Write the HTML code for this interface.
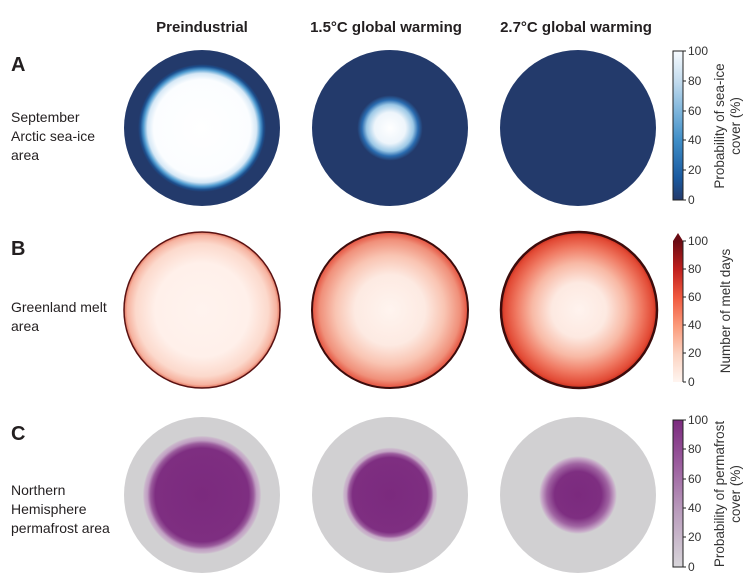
<!DOCTYPE html>
<html><head><meta charset="utf-8"><style>
html,body{margin:0;padding:0;background:#fff;}
svg{display:block;}
.h{font-family:"Liberation Sans",sans-serif;font-weight:bold;font-size:15px;fill:#231f20;}
.L{font-family:"Liberation Sans",sans-serif;font-weight:bold;font-size:20px;fill:#231f20;}
.t{font-family:"Liberation Sans",sans-serif;font-size:14px;fill:#231f20;}
.k{font-family:"Liberation Sans",sans-serif;font-size:12px;fill:#333;}
.ct{font-family:"Liberation Sans",sans-serif;font-size:13.5px;fill:#333;}
</style></head><body>
<svg width="750" height="586" viewBox="0 0 750 586" xmlns="http://www.w3.org/2000/svg">
<defs>
<radialGradient id="a1" cx="0.5" cy="0.5" r="0.5">
<stop offset="0" stop-color="#fff"/><stop offset="0.62" stop-color="#fbfdff"/><stop offset="0.7" stop-color="#d6e8f6"/><stop offset="0.75" stop-color="#4f9bd0"/><stop offset="0.79" stop-color="#1c4f8e"/><stop offset="0.82" stop-color="#233a6b"/><stop offset="1" stop-color="#233a6b"/>
</radialGradient>
<radialGradient id="a2" cx="0.5" cy="0.5" r="0.5">
<stop offset="0" stop-color="#fff"/><stop offset="0.2" stop-color="#eef5fb"/><stop offset="0.3" stop-color="#9cc8e6"/><stop offset="0.36" stop-color="#2a6cb0"/><stop offset="0.42" stop-color="#233a6b"/><stop offset="1" stop-color="#233a6b"/>
</radialGradient>
<radialGradient id="b1" cx="0.5" cy="0.5" r="0.5">
<stop offset="0" stop-color="#fff3ee"/><stop offset="0.6" stop-color="#fff0ea"/><stop offset="0.85" stop-color="#fcd9cc"/><stop offset="0.96" stop-color="#f6b29f"/><stop offset="1" stop-color="#e0705a"/>
</radialGradient>
<radialGradient id="b2" cx="0.5" cy="0.5" r="0.5">
<stop offset="0" stop-color="#fff4ef"/><stop offset="0.45" stop-color="#fdeae2"/><stop offset="0.7" stop-color="#f9c4b2"/><stop offset="0.9" stop-color="#f0907a"/><stop offset="1" stop-color="#e4503d"/>
</radialGradient>
<radialGradient id="b3" cx="0.5" cy="0.5" r="0.5">
<stop offset="0" stop-color="#fff3ee"/><stop offset="0.35" stop-color="#fde9e1"/><stop offset="0.6" stop-color="#f8b9a5"/><stop offset="0.8" stop-color="#f07a63"/><stop offset="0.95" stop-color="#e24a35"/><stop offset="1" stop-color="#c8301f"/>
</radialGradient>
<radialGradient id="c1" cx="0.5" cy="0.5" r="0.5">
<stop offset="0" stop-color="#7b2a7e"/><stop offset="0.6" stop-color="#7e2e81"/><stop offset="0.66" stop-color="#9a5b9c"/><stop offset="0.7" stop-color="#c09ec2"/><stop offset="0.74" stop-color="#cab5cb"/><stop offset="0.76" stop-color="#d1d0d2"/><stop offset="1" stop-color="#d1d0d2"/>
</radialGradient>
<radialGradient id="c2" cx="0.5" cy="0.5" r="0.5">
<stop offset="0" stop-color="#7b2a7e"/><stop offset="0.48" stop-color="#7e2e81"/><stop offset="0.53" stop-color="#9c5d9e"/><stop offset="0.56" stop-color="#c4a6c5"/><stop offset="0.59" stop-color="#cab6cb"/><stop offset="0.61" stop-color="#d1d0d2"/><stop offset="1" stop-color="#d1d0d2"/>
</radialGradient>
<radialGradient id="c3" cx="0.5" cy="0.5" r="0.5">
<stop offset="0" stop-color="#7b2a7e"/><stop offset="0.3" stop-color="#7e2e81"/><stop offset="0.4" stop-color="#a064a2"/><stop offset="0.47" stop-color="#c7a9c8"/><stop offset="0.5" stop-color="#d1d0d2"/><stop offset="1" stop-color="#d1d0d2"/>
</radialGradient>
<linearGradient id="ga" x1="0" y1="1" x2="0" y2="0">
<stop offset="0" stop-color="#233a6b"/><stop offset="0.15" stop-color="#1a5aa0"/><stop offset="0.4" stop-color="#3f8ec7"/><stop offset="0.6" stop-color="#7fb6dc"/><stop offset="0.8" stop-color="#c4dcee"/><stop offset="1" stop-color="#f7fbff"/>
</linearGradient>
<linearGradient id="gb" x1="0" y1="1" x2="0" y2="0">
<stop offset="0" stop-color="#fff5f0"/><stop offset="0.2" stop-color="#fcd3c1"/><stop offset="0.4" stop-color="#fb9a7a"/><stop offset="0.6" stop-color="#f05a40"/><stop offset="0.8" stop-color="#c0201e"/><stop offset="1" stop-color="#6a0b13"/>
</linearGradient>
<linearGradient id="gc" x1="0" y1="1" x2="0" y2="0">
<stop offset="0" stop-color="#d8d6da"/><stop offset="0.4" stop-color="#b899bb"/><stop offset="0.7" stop-color="#9b5d9e"/><stop offset="1" stop-color="#7b2a7e"/>
</linearGradient>
</defs>

<text class="h" x="202" y="32" text-anchor="middle">Preindustrial</text>
<text class="h" x="386" y="32" text-anchor="middle">1.5°C global warming</text>
<text class="h" x="576" y="32" text-anchor="middle">2.7°C global warming</text>

<text class="L" x="11" y="71">A</text>
<text class="t" x="11" y="122">September</text>
<text class="t" x="11" y="141">Arctic sea-ice</text>
<text class="t" x="11" y="160">area</text>
<text class="L" x="11" y="255">B</text>
<text class="t" x="11" y="312">Greenland melt</text>
<text class="t" x="11" y="331">area</text>
<text class="L" x="11" y="440">C</text>
<text class="t" x="11" y="495">Northern</text>
<text class="t" x="11" y="514">Hemisphere</text>
<text class="t" x="11" y="533">permafrost area</text>

<circle cx="202" cy="128" r="78" fill="url(#a1)"/>
<circle cx="390" cy="128" r="78" fill="url(#a2)"/>
<circle cx="578" cy="128" r="78" fill="#233a6b"/>

<circle cx="202" cy="310" r="78" fill="url(#b1)" stroke="#5a1212" stroke-width="1.5"/>
<circle cx="390" cy="310" r="78" fill="url(#b2)" stroke="#3d0c0c" stroke-width="2"/>
<circle cx="579" cy="310" r="78" fill="url(#b3)" stroke="#3d0c0c" stroke-width="2.5"/>

<circle cx="202" cy="495" r="78" fill="url(#c1)"/>
<circle cx="390" cy="495" r="78" fill="url(#c2)"/>
<circle cx="578" cy="495" r="78" fill="url(#c3)"/>

<!-- colorbar A -->
<rect x="673" y="51" width="10" height="149" fill="url(#ga)" stroke="#222" stroke-width="1"/>
<g class="k">
<text x="688" y="55">100</text><text x="688" y="85">80</text><text x="688" y="115">60</text><text x="688" y="144">40</text><text x="688" y="174">20</text><text x="688" y="204">0</text>
</g>
<g stroke="#222" stroke-width="1"><line x1="683" y1="51" x2="686" y2="51"/><line x1="683" y1="81" x2="686" y2="81"/><line x1="683" y1="111" x2="686" y2="111"/><line x1="683" y1="140" x2="686" y2="140"/><line x1="683" y1="170" x2="686" y2="170"/><line x1="683" y1="200" x2="686" y2="200"/></g>
<text class="ct" transform="translate(724,126) rotate(-90)" text-anchor="middle">Probability of sea-ice</text>
<text class="ct" transform="translate(740,126) rotate(-90)" text-anchor="middle">cover (%)</text>

<!-- colorbar B -->
<rect x="673" y="241" width="10" height="141" fill="url(#gb)"/>
<polygon points="673,241 678,233 683,241" fill="#6a0b13"/>
<g class="k">
<text x="688" y="245">100</text><text x="688" y="273">80</text><text x="688" y="301">60</text><text x="688" y="329">40</text><text x="688" y="357">20</text><text x="688" y="386">0</text>
</g>
<g stroke="#222" stroke-width="1"><line x1="683" y1="241" x2="686" y2="241"/><line x1="683" y1="269" x2="686" y2="269"/><line x1="683" y1="297" x2="686" y2="297"/><line x1="683" y1="325" x2="686" y2="325"/><line x1="683" y1="353" x2="686" y2="353"/><line x1="683" y1="382" x2="686" y2="382"/><line x1="683" y1="241" x2="683" y2="382"/></g>
<text class="ct" transform="translate(730,311) rotate(-90)" text-anchor="middle">Number of melt days</text>

<!-- colorbar C -->
<rect x="673" y="420" width="10" height="147" fill="url(#gc)" stroke="#222" stroke-width="1"/>
<g class="k">
<text x="688" y="424">100</text><text x="688" y="453">80</text><text x="688" y="483">60</text><text x="688" y="512">40</text><text x="688" y="541">20</text><text x="688" y="571">0</text>
</g>
<g stroke="#222" stroke-width="1"><line x1="683" y1="420" x2="686" y2="420"/><line x1="683" y1="449" x2="686" y2="449"/><line x1="683" y1="479" x2="686" y2="479"/><line x1="683" y1="508" x2="686" y2="508"/><line x1="683" y1="537" x2="686" y2="537"/><line x1="683" y1="567" x2="686" y2="567"/></g>
<text class="ct" transform="translate(724,494) rotate(-90)" text-anchor="middle">Probability of permafrost</text>
<text class="ct" transform="translate(740,494) rotate(-90)" text-anchor="middle">cover (%)</text>
</svg>
</body></html>
